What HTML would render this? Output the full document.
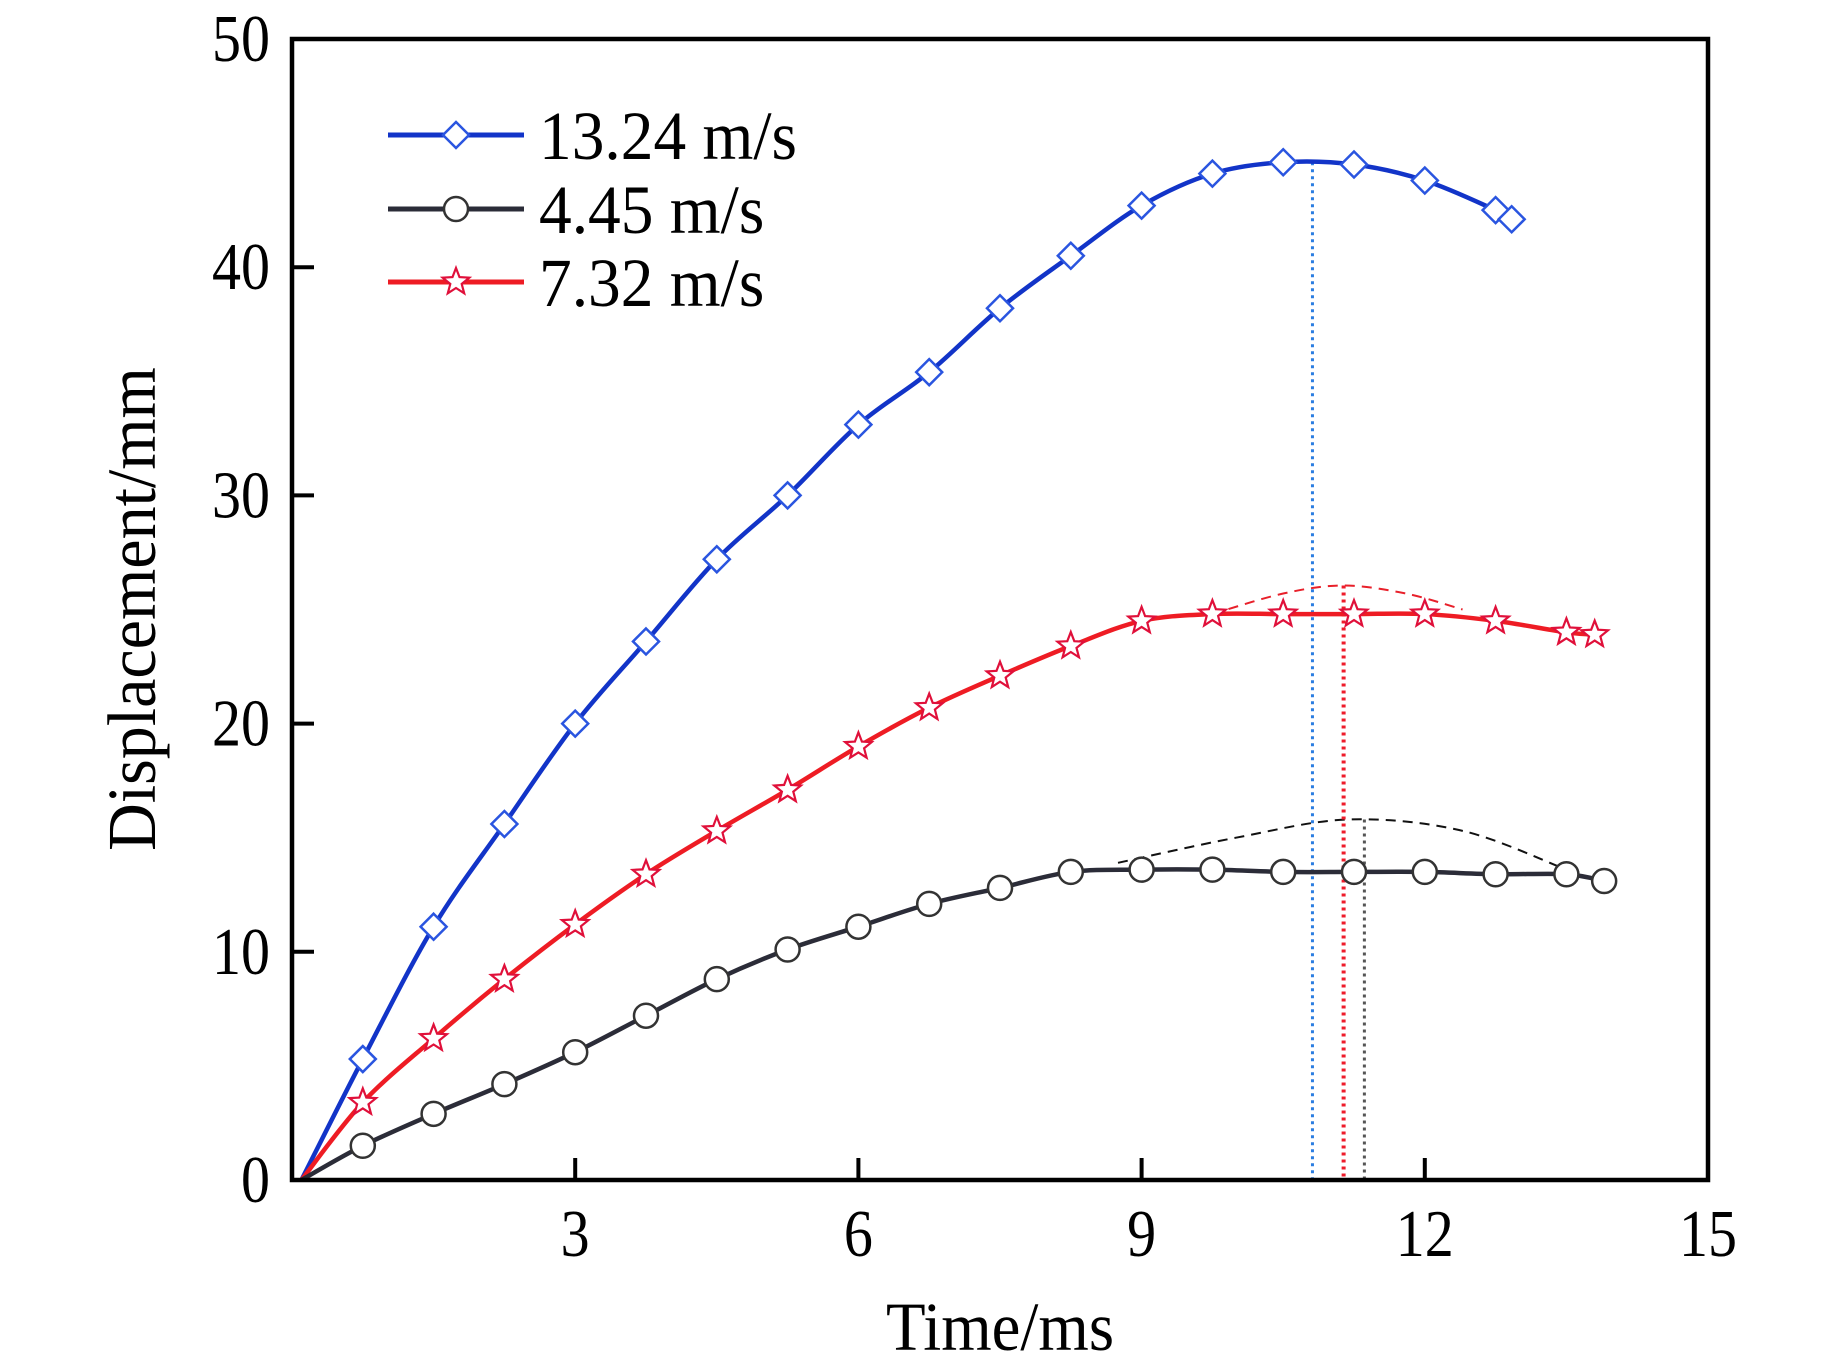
<!DOCTYPE html>
<html><head><meta charset="utf-8"><style>
html,body{margin:0;padding:0;background:#fff;}
svg{display:block;font-family:"Liberation Serif",serif;}
</style></head><body>
<svg id="chart" width="1843" height="1370" viewBox="0 0 1843 1370" xmlns="http://www.w3.org/2000/svg">
<g id="plot"></g>
</svg>
<script>
const xTicks = [3, 6, 9, 12, 15];
const yTicks = [0, 10, 20, 30, 40, 50];
const blueTimes = [0.1,0.75,1.5,2.25,3,3.75,4.5,5.25,6,6.75,7.5,8.25,9,9.75,10.5,11.25,12,12.75,12.92];
const blueVals = [0,5.3,11.1,15.6,20.0,23.6,27.2,30.0,33.1,35.4,38.2,40.5,42.7,44.1,44.6,44.5,43.8,42.5,42.1];
const redTimes = [0.1,0.75,1.5,2.25,3,3.75,4.5,5.25,6,6.75,7.5,8.25,9,9.75,10.5,11.25,12,12.75,13.5,13.8];
const redVals = [0,3.4,6.2,8.8,11.2,13.4,15.3,17.1,19.0,20.7,22.1,23.4,24.5,24.8,24.8,24.8,24.8,24.5,24.0,23.9];
const blackTimes = [0.1,0.75,1.5,2.25,3,3.75,4.5,5.25,6,6.75,7.5,8.25,9,9.75,10.5,11.25,12,12.75,13.5,13.9];
const blackVals = [0,1.5,2.9,4.2,5.6,7.2,8.8,10.1,11.1,12.1,12.8,13.5,13.6,13.6,13.5,13.5,13.5,13.4,13.4,13.1];
const redDashT = [9.75,10.5,11.14,11.8,12.4];
const redDashV = [24.8,25.7,26.05,25.7,25.0];
const blackDashT = [8.75,10.0,11.2,12.4,13.5];
const blackDashV = [13.9,15.0,15.8,15.3,13.6];
const peakT = [10.81, 11.14, 11.36];
const peakV = [44.6, 26.05, 15.8];

const X0=292, X1=1708, Y0=1180, Y1=39;
const sx = t => X0 + (t/15)*(X1-X0);
const sy = v => Y0 - (v/50)*(Y0-Y1);
const NS='http://www.w3.org/2000/svg';
const plot=document.getElementById('plot');
function mk(tag, attrs, parent){const e=document.createElementNS(NS,tag);for(const k in attrs)e.setAttribute(k,attrs[k]);(parent||plot).appendChild(e);return e;}
function smooth(ts,vs){
  const p=ts.map((t,i)=>[sx(t),sy(vs[i])]);
  let d='M'+p[0][0]+','+p[0][1];
  for(let i=0;i<p.length-1;i++){
    const a=p[Math.max(0,i-1)],b=p[i],c=p[i+1],e=p[Math.min(p.length-1,i+2)];
    const c1=[b[0]+(c[0]-a[0])/6,b[1]+(c[1]-a[1])/6],c2=[c[0]-(e[0]-b[0])/6,c[1]-(e[1]-b[1])/6];
    d+=' C'+c1+' '+c2+' '+c;
  }
  return d;
}
function diamond(x,y,col,parent){const r=13;return mk('path',{d:`M${x},${y-r} L${x+r},${y} L${x},${y+r} L${x-r},${y} Z`,fill:'#fff',stroke:col,'stroke-width':2.5},parent);}
function circle(x,y,col,parent){return mk('circle',{cx:x,cy:y,r:12,fill:'#fff',stroke:col,'stroke-width':2.5},parent);}
function star(x,y,col,parent){let d='';for(let i=0;i<10;i++){const r=i%2?6:14;const a=-Math.PI/2+i*Math.PI/5;d+=(i?'L':'M')+(x+r*Math.cos(a)).toFixed(1)+','+(y+r*Math.sin(a)).toFixed(1);}return mk('path',{d:d+'Z',fill:'#fff',stroke:col,'stroke-width':2.2},parent);}
function label(x,y,size,anchor,txt,name,extra){
  const t=mk('text',Object.assign({x:x,y:y,'font-size':size,'text-anchor':anchor},extra||{}));
  t.textContent=txt;
  
  
  return t;
}

let e;
e=mk('path',{d:smooth(redDashT,redDashV),fill:'none',stroke:'#e8202a','stroke-width':2,'stroke-dasharray':'10,7'});


e=mk('path',{d:smooth(blackDashT,blackDashV),fill:'none',stroke:'#111','stroke-width':2,'stroke-dasharray':'10,7'});


const peakCols=['#2a7de1','#ee1c2b','#555'];
peakT.forEach((t,i)=>{
  const l=mk('line',{x1:sx(t),x2:sx(t),y1:sy(peakV[i]),y2:Y0,stroke:peakCols[i],'stroke-width':i==1?4:3,'stroke-dasharray':'3,4'});
  
  
});
const series=[
 {name:'series-13-24',ts:blueTimes,vs:blueVals,col:'#1234c8',mcol:'#2a55e0',m:diamond},
 {name:'series-7-32',ts:redTimes,vs:redVals,col:'#ee1c24',mcol:'#e0103a',m:star},
 {name:'series-4-45',ts:blackTimes,vs:blackVals,col:'#2b2c38',mcol:'#333',m:circle}
];
series.forEach(s=>{
  const g=mk('g',{});
  
  
  mk('path',{d:smooth(s.ts,s.vs),fill:'none',stroke:s.col,'stroke-width':4.5,'stroke-linejoin':'round'},g);
  for(let i=1;i<s.ts.length;i++){
    const m=s.m(sx(s.ts[i]),sy(s.vs[i]),s.mcol,g);
    
    
  }
});
e=mk('rect',{x:X0,y:Y1,width:X1-X0,height:Y0-Y1,fill:'none',stroke:'#000','stroke-width':4.5});


xTicks.forEach(t=>{
  const x=sx(t);
  if(t<15){const l=mk('line',{x1:x,x2:x,y1:Y0,y2:Y0-22,stroke:'#000','stroke-width':4});
  
  }
  label(x,0,58,'middle',t,'x-tick-label',{transform:`translate(0,1256) scale(1,1.15)`});
});
yTicks.forEach(v=>{
  const y=sy(v);
  if(v>0&&v<50){const l=mk('line',{x1:X0,x2:X0+22,y1:y,y2:y,stroke:'#000','stroke-width':4});
  
  }
  label(270,0,58,'end',v,'y-tick-label',{transform:`translate(0,${y+22}) scale(1,1.15)`});
});
label(0,0,60,'middle','Time/ms','x-axis-title',{transform:'translate(1000,1350) scale(1.08,1.15)'});
label(0,0,60,'middle','Displacement/mm','y-axis-title',{transform:'translate(155,609) rotate(-90) scale(1.1,1.15)'});
const legLabels=['13.24 m/s','4.45 m/s','7.32 m/s'];
const legY=[135,209,282];
const legS=[series[0],series[2],series[1]];
legLabels.forEach((lab,i)=>{
  const g=mk('g',{});
  
  
  mk('line',{x1:388,x2:524,y1:legY[i],y2:legY[i],stroke:legS[i].col,'stroke-width':5},g);
  legS[i].m(456,legY[i],legS[i].mcol,g);
  const t=mk('text',{x:0,y:0,'font-size':60,transform:`translate(539,${legY[i]+24}) scale(1.09,1.15)`},g);t.textContent=lab;
});
</script>
</body></html>
